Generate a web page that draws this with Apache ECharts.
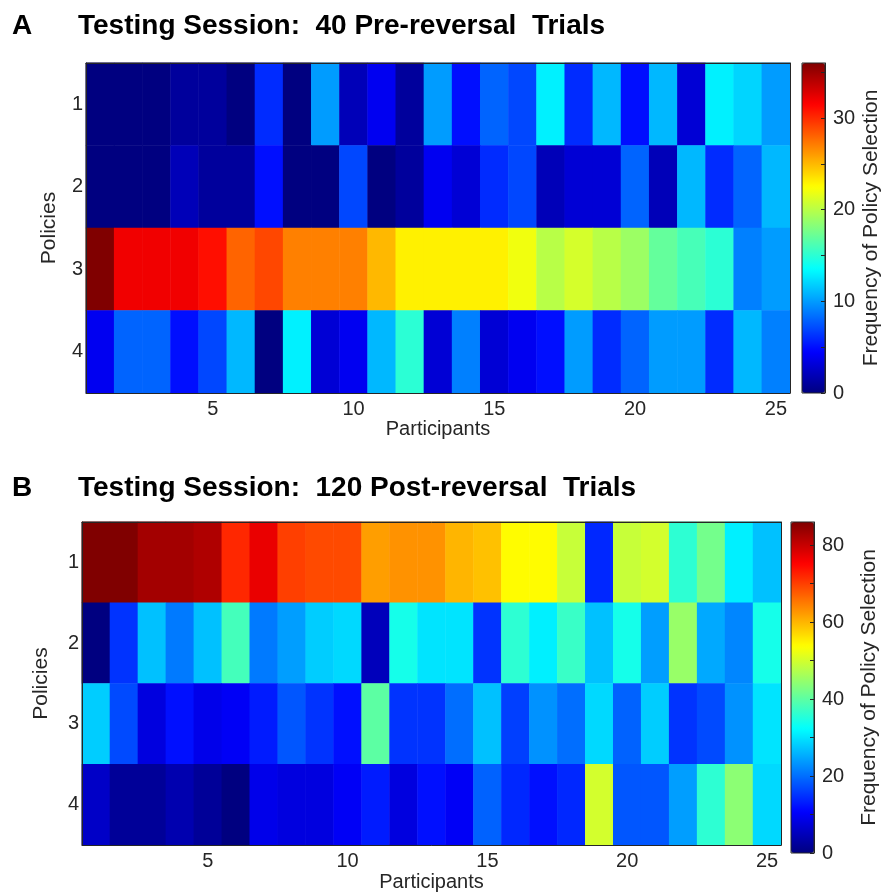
<!DOCTYPE html>
<html>
<head>
<meta charset="utf-8">
<script src="https://cdn.jsdelivr.net/npm/echarts@6/dist/echarts.min.js"></script>
<style>
  html, body { margin: 0; padding: 0; background: #fff; }
  #chart { width: 889px; height: 893px; }
</style>
</head>
<body>
<div id="chart"></div>
<script>
// Axis categories
const participants = ['1','2','3','4','5','6','7','8','9','10','11','12','13','14','15','16','17','18','19','20','21','22','23','24','25'];
const policies = ['1','2','3','4'];

// Panel A: selections per policy over 40 pre-reversal trials (one value per participant)
const preP1 = [0,0,0,1,1,0,6,0,10,2,4,1,10,5,8,7,13,6,11,5,11,3,13,12,10];
const preP2 = [0,0,0,2,1,1,5,0,0,7,0,1,4,3,6,7,2,3,3,8,2,11,6,8,11];
const preP3 = [36,32,32,32,31,28,29,27,27,27,25,23,23,23,23,22,20,21,20,19,17,16,15,9,10];
const preP4 = [4,8,8,5,7,11,0,13,3,4,11,15,3,9,3,4,5,10,6,8,10,10,6,11,9];

// Panel B: selections per policy over 120 post-reversal trials
const postP1 = [86,86,83,83,82,72,77,70,69,69,62,63,63,60,59,54,54,49,14,49,50,36,42,31,27];
const postP2 = [0,15,27,21,27,38,21,24,28,29,5,34,30,30,15,36,31,37,27,34,24,45,25,22,34];
const postP3 = [28,17,8,12,9,10,13,18,15,12,40,15,15,20,27,16,23,20,29,19,28,15,17,23,30];
const postP4 = [6,2,2,4,2,0,9,8,8,10,13,8,12,10,19,14,12,14,50,18,18,24,36,44,29];

// Colour scale ranges
const preMax = 36;
const postMax = 86;

// Jet colormap, evenly spaced stops
const jet = ['#000080','#0000ff','#0080ff','#00ffff','#80ff80','#ffff00','#ff8000','#ff0000','#800000'];

function toCells(rows) {
  const out = [];
  rows.forEach((row, yi) => row.forEach((v, xi) => out.push([xi, yi, v])));
  return out;
}

const FONT = 'Liberation Sans, Arial, sans-serif';
const INK = '#262626';

const layout = [
  { grid: { left: 86, top: 63, width: 704, height: 330 }, bar: { left: 802, top: 63, width: 23, height: 330 },
    policiesGap: 26, barNameGap: 36 },
  { grid: { left: 82, top: 522, width: 699, height: 331 }, bar: { left: 791, top: 522, width: 23, height: 331 },
    policiesGap: 30, barNameGap: 45 }
];

const grids = [];
const xAxes = [];
const yAxes = [];
const series = [];
const visualMaps = [];

const panels = [
  { rows: [preP1, preP2, preP3, preP4], max: preMax, step: 5, labelStep: 10 },
  { rows: [postP1, postP2, postP3, postP4], max: postMax, step: 10, labelStep: 20 }
];

panels.forEach((p, i) => {
  const L = layout[i];
  // heatmap grid
  grids.push(Object.assign({ show: true, borderColor: INK, borderWidth: 1, backgroundColor: 'transparent' }, L.grid));
  const gHeat = grids.length - 1;
  // colour bar grid (outline only; the gradient comes from the visualMap)
  grids.push(Object.assign({ show: true, borderColor: INK, borderWidth: 1, backgroundColor: 'transparent', z: 5 }, L.bar));
  const gBar = grids.length - 1;

  const everyFifth = (idx) => (idx + 1) % 5 === 0;
  xAxes.push({
    type: 'category', gridIndex: gHeat, data: participants, position: 'bottom',
    name: 'Participants', nameLocation: 'middle', nameGap: 25,
    nameTextStyle: { fontFamily: FONT, fontSize: 20, color: INK },
    axisLine: { lineStyle: { color: INK } },
    axisTick: { inside: true, alignWithLabel: true, interval: everyFifth, length: 6, lineStyle: { color: INK } },
    axisLabel: { interval: everyFifth, fontFamily: FONT, fontSize: 20, color: INK, margin: 6 },
    splitLine: { show: false }, z: 10
  });
  xAxes.push({
    type: 'category', gridIndex: gHeat, data: participants, position: 'top',
    axisLine: { lineStyle: { color: INK } },
    axisTick: { inside: true, alignWithLabel: true, interval: everyFifth, length: 6, lineStyle: { color: INK } },
    axisLabel: { show: false }, splitLine: { show: false }, z: 10
  });
  yAxes.push({
    type: 'category', gridIndex: gHeat, data: policies, inverse: true, position: 'left',
    name: 'Policies', nameLocation: 'middle', nameGap: L.policiesGap, nameRotate: 90,
    nameTextStyle: { fontFamily: FONT, fontSize: 21, color: INK },
    axisLine: { lineStyle: { color: INK } },
    axisTick: { inside: true, alignWithLabel: true, length: 6, lineStyle: { color: INK } },
    axisLabel: { fontFamily: FONT, fontSize: 20, color: INK, margin: 3 },
    splitLine: { show: false }, z: 10
  });
  yAxes.push({
    type: 'category', gridIndex: gHeat, data: policies, inverse: true, position: 'right',
    axisLine: { lineStyle: { color: INK } },
    axisTick: { inside: true, alignWithLabel: true, length: 6, lineStyle: { color: INK } },
    axisLabel: { show: false }, splitLine: { show: false }, z: 10
  });

  // colour bar: hidden x axis plus value axis carrying the scale
  xAxes.push({ type: 'value', gridIndex: gBar, show: false, min: 0, max: 1 });
  yAxes.push({
    type: 'value', gridIndex: gBar, position: 'right', min: 0, max: p.max, interval: p.step,
    name: 'Frequency of Policy Selection', nameLocation: 'middle', nameGap: L.barNameGap, nameRotate: 90,
    nameTextStyle: { fontFamily: FONT, fontSize: 21, color: INK },
    axisLine: { show: true, onZero: false, lineStyle: { color: INK } },
    axisTick: { show: true, inside: true, length: 4, lineStyle: { color: INK } },
    axisLabel: {
      fontFamily: FONT, fontSize: 20, color: INK, margin: 8, showMaxLabel: false,
      formatter: (v) => (v % p.labelStep === 0 ? String(v) : '')
    },
    splitLine: { show: false }, z: 20
  });

  series.push({
    type: 'heatmap',
    xAxisIndex: xAxes.length - 3,
    yAxisIndex: yAxes.length - 3,
    data: toCells(p.rows),
    itemStyle: { borderWidth: 0 },
    emphasis: { disabled: true },
    progressive: 0,
    z: 1
  });

  visualMaps.push({
    type: 'continuous',
    seriesIndex: i,
    min: 0, max: p.max,
    calculable: false,
    realtime: false,
    orient: 'vertical',
    left: L.bar.left, top: L.bar.top,
    itemWidth: L.bar.width, itemHeight: L.bar.height,
    padding: 0,
    text: null,
    showLabel: false,
    inRange: { color: jet },
    z: 1
  });
});

const titleStyle = { fontFamily: FONT, fontSize: 28, fontWeight: 'bold', color: '#000' };
const chart = echarts.init(document.getElementById('chart'), null, { renderer: 'canvas' });
chart.setOption({
  backgroundColor: '#fff',
  animation: false,
  title: [
    { text: 'A', left: 12, top: 12, padding: 0, textStyle: titleStyle },
    { text: 'Testing Session:  40 Pre-reversal  Trials', left: 78, top: 12, padding: 0, textStyle: titleStyle },
    { text: 'B', left: 12, top: 474, padding: 0, textStyle: titleStyle },
    { text: 'Testing Session:  120 Post-reversal  Trials', left: 78, top: 474, padding: 0, textStyle: titleStyle }
  ],
  grid: grids,
  xAxis: xAxes,
  yAxis: yAxes,
  visualMap: visualMaps,
  series: series
});
</script>
</body>
</html>
